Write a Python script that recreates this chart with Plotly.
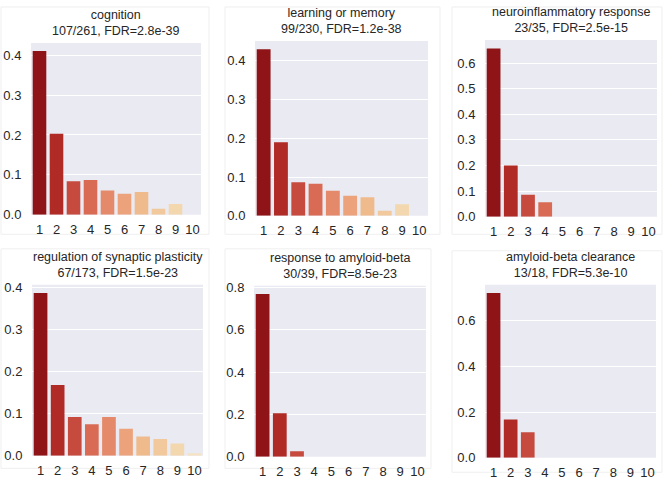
import plotly.graph_objects as go

categories = ["1", "2", "3", "4", "5", "6", "7", "8", "9", "10"]

titles = [
    "cognition<br>107/261, FDR=2.8e-39",
    "learning or memory<br>99/230, FDR=1.2e-38",
    "neuroinflammatory response<br>23/35, FDR=2.5e-15",
    "regulation of synaptic plasticity<br>67/173, FDR=1.5e-23",
    "response to amyloid-beta<br>30/39, FDR=8.5e-23",
    "amyloid-beta clearance<br>13/18, FDR=5.3e-10",
]

cognition = [0.410, 0.203, 0.084, 0.087, 0.061, 0.053, 0.057, 0.015, 0.027, 0.0]
learning_memory = [0.430, 0.190, 0.087, 0.083, 0.065, 0.052, 0.048, 0.013, 0.030, 0.0]
neuroinflammatory = [0.657, 0.200, 0.086, 0.057, 0.0, 0.0, 0.0, 0.0, 0.0, 0.0]
synaptic_plasticity = [0.387, 0.168, 0.092, 0.075, 0.092, 0.064, 0.046, 0.040, 0.029, 0.006]
amyloid_response = [0.769, 0.205, 0.026, 0.0, 0.0, 0.0, 0.0, 0.0, 0.0, 0.0]
amyloid_clearance = [0.722, 0.167, 0.111, 0.0, 0.0, 0.0, 0.0, 0.0, 0.0, 0.0]

series = [cognition, learning_memory, neuroinflammatory,
          synaptic_plasticity, amyloid_response, amyloid_clearance]

y_ticks = [
    [0.0, 0.1, 0.2, 0.3, 0.4],
    [0.0, 0.1, 0.2, 0.3, 0.4],
    [0.0, 0.1, 0.2, 0.3, 0.4, 0.5, 0.6],
    [0.0, 0.1, 0.2, 0.3, 0.4],
    [0.0, 0.2, 0.4, 0.6, 0.8],
    [0.0, 0.2, 0.4, 0.6],
]

colors = ["#8f1417", "#b02a26", "#c64a3e", "#d96b55", "#e48a6a",
          "#eca37b", "#f0bb8c", "#f2c99c", "#f3d7ae", "#f5e3c4"]

W, H = 666, 489
# plot areas in pixels: (x0, x1, y0_top, y1_bottom)
areas = [
    (31, 201, 38, 215),
    (255, 428, 36, 216),
    (485, 657, 35, 217),
    (32, 203, 287, 463),
    (254, 426, 288, 464),
    (485, 656, 287, 465),
]
boxes = [
    (1, 209, 1, 235),
    (225, 440, 1, 235),
    (452, 662, 1, 235),
    (1, 209, 250, 476),
    (225, 431, 250, 476),
    (452, 662, 252, 480),
]

fig = go.Figure()
font_color = "#262626"
font_family = "Liberation Sans, Arial, sans-serif"

for i, vals in enumerate(series):
    n = i + 1
    xa = "x" if n == 1 else f"x{n}"
    ya = "y" if n == 1 else f"y{n}"
    fig.add_trace(go.Bar(
        x=categories, y=vals, xaxis=xa, yaxis=ya,
        marker=dict(color=colors, line=dict(width=0)),
        width=0.8, showlegend=False,
    ))
    x0, x1, y0, y1 = areas[i]
    ymax = max(vals) * 1.05
    xdom = [x0 / W, x1 / W]
    ydom = [1 - y1 / H, 1 - y0 / H]
    xkey = "xaxis" if n == 1 else f"xaxis{n}"
    ykey = "yaxis" if n == 1 else f"yaxis{n}"
    fig.update_layout(**{
        xkey: dict(domain=xdom, anchor=ya, type="category", range=[-0.5, 9.5],
                   showgrid=False, zeroline=False, showline=False,
                   tickfont=dict(size=13, color=font_color, family=font_family),
                   ticks="outside", ticklen=3, tickcolor="rgba(0,0,0,0)"),
        ykey: dict(domain=ydom, anchor=xa, range=[0, ymax],
                   tickvals=y_ticks[i], ticktext=[f"{t:.1f}" for t in y_ticks[i]],
                   showgrid=True, gridcolor="white", gridwidth=1,
                   zeroline=False, showline=False,
                   tickfont=dict(size=13, color=font_color, family=font_family),
                   ticks="outside", ticklen=6, tickcolor="rgba(0,0,0,0)"),
    })
    fig.add_shape(type="rect", xref="paper", yref="paper",
                  x0=xdom[0], x1=xdom[1], y0=ydom[0], y1=ydom[1],
                  fillcolor="#eaeaf2", line=dict(width=0), layer="below")
    bx0, bx1, by0, by1 = boxes[i]
    fig.add_shape(type="rect", xref="paper", yref="paper",
                  x0=bx0 / W, x1=bx1 / W, y0=1 - by1 / H, y1=1 - by0 / H,
                  line=dict(color="#efefef", width=1), fillcolor="rgba(0,0,0,0)",
                  layer="below")
    fig.add_annotation(text=titles[i], xref="paper", yref="paper",
                       x=(xdom[0] + xdom[1]) / 2, y=ydom[1] + 3 / H,
                       xanchor="center", yanchor="bottom", showarrow=False,
                       font=dict(size=12.5, color=font_color, family=font_family),
                       align="center")

fig.update_layout(
    width=W, height=H, margin=dict(l=0, r=0, t=0, b=0),
    paper_bgcolor="white", plot_bgcolor="rgba(0,0,0,0)",
    bargap=0.2,
)

fig.write_html("out.html",
               config={"displayModeBar": False},
               post_script="document.body.style.margin='0';document.body.style.overflow='hidden';")
